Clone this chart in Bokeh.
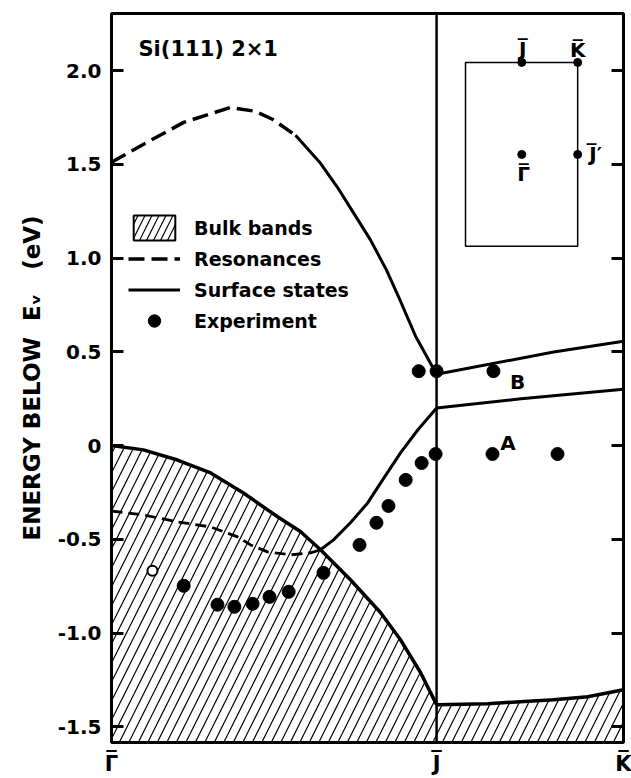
from bokeh.plotting import figure
from bokeh.models import Span, Legend, LegendItem, LinearAxis, FixedTicker, Label
from bokeh.embed import file_html
from bokeh.resources import INLINE
from bokeh.core.properties import value

FONT = "DejaVu Sans"
BAR = "\u203e"  # overbar drawn above the symmetry-point letters

# ---- symmetry points along k (Gamma = 0, J = 1) ----
J_X = 1.0
K_X = 1.575
Y_MIN, Y_MAX = -1.584, 2.305

Y_TICKS = [-1.5, -1.0, -0.5, 0.0, 0.5, 1.0, 1.5, 2.0]
Y_TICK_LABELS = ["-1.5", "-1.0", "-0.5", "0", "0.5", "1.0", "1.5", "2.0"]
X_TICKS = [0.0, J_X, K_X]
X_TICK_LABELS = ["\u0393", "J", "K"]

# ---- bulk band edge, Gamma-J ----
BULK_L_K = [0.0, 0.098, 0.203, 0.305, 0.406, 0.511, 0.582, 0.643, 0.735, 0.828, 0.889, 0.951, 1.0]
BULK_L_E = [0.0, -0.023, -0.077, -0.146, -0.253, -0.380, -0.460, -0.556, -0.716, -0.892, -1.036, -1.212, -1.382]
# ---- bulk band edge, J-K ----
BULK_R_K = [1.0, 1.157, 1.36, 1.465, 1.575]
BULK_R_E = [-1.382, -1.377, -1.356, -1.340, -1.303]

# ---- resonances (dashed) ----
RES_UP_K = [0.0, 0.12, 0.222, 0.366, 0.443, 0.495, 0.566]
RES_UP_E = [1.511, 1.628, 1.724, 1.804, 1.783, 1.741, 1.655]
RES_LO_K = [0.0, 0.098, 0.203, 0.305, 0.388, 0.428, 0.48, 0.551, 0.612, 0.643]
RES_LO_E = [-0.349, -0.370, -0.407, -0.434, -0.487, -0.530, -0.567, -0.583, -0.572, -0.556]

# ---- surface states (solid) ----
SS_UP_K = [0.566, 0.643, 0.695, 0.745, 0.797, 0.846, 0.889, 0.935, 1.0, 1.36, 1.575]
SS_UP_E = [1.655, 1.506, 1.378, 1.240, 1.096, 0.936, 0.770, 0.585, 0.381, 0.499, 0.557]
SS_LO_K = [0.643, 0.683, 0.735, 0.788, 0.828, 0.889, 0.942, 1.0, 1.26, 1.575]
SS_LO_E = [-0.556, -0.503, -0.412, -0.306, -0.199, -0.039, 0.083, 0.200, 0.250, 0.300]

# ---- experiment ----
EXP_K = [0.222, 0.326, 0.378, 0.434, 0.486, 0.545, 0.652, 0.763, 0.815, 0.852, 0.905, 0.954, 0.997,
         0.945, 1.0, 1.175, 1.172, 1.372]
EXP_E = [-0.748, -0.849, -0.860, -0.844, -0.807, -0.780, -0.679, -0.530, -0.412, -0.322, -0.183, -0.093, -0.045,
         0.397, 0.397, 0.397, -0.045, -0.045]
OPEN_K = [0.126]
OPEN_E = [-0.668]

# ---- peak labels ----
PEAK_K = [1.22, 1.249]
PEAK_E = [0.014, 0.339]
PEAK_TXT = ["A", "B"]

# ---- inset surface Brillouin zone ----
BZ_LEFT, BZ_RIGHT, BZ_BOTTOM, BZ_TOP = 1.089, 1.434, 1.063, 2.044
BZ_PT_K = [1.262, 1.434, 1.434, 1.262]
BZ_PT_E = [2.044, 2.044, 1.553, 1.553]
BZ_LBL_K = [1.265, 1.434, 1.489, 1.268]
BZ_LBL_E = [2.113, 2.108, 1.554, 1.447]
BZ_LBL = ["J", "K", "J\u2032", "\u0393"]
BZ_BAR_DX = [0, 0, -4, 0]

TITLE = "Si(111) 2\u00d71"
Y_LABEL = "ENERGY BELOW\u00a0\u00a0E\u1d65\u00a0\u00a0\u00a0(eV)"

p = figure(width=631, height=778, output_backend="svg", toolbar_location=None,
           x_range=(0, K_X), y_range=(Y_MIN, Y_MAX),
           min_border_left=111, min_border_right=8, min_border_top=13, min_border_bottom=35)
p.grid.visible = False
p.background_fill_color = "white"
p.border_fill_color = "white"
p.outline_line_color = "black"
p.outline_line_width = 3

# axes
yax = p.yaxis[0]
yax.ticker = FixedTicker(ticks=Y_TICKS)
yax.major_label_overrides = dict(zip(Y_TICKS, Y_TICK_LABELS))
yax.major_tick_in = 12
yax.major_tick_out = 0
yax.major_tick_line_width = 3
yax.minor_tick_line_color = None
yax.axis_line_color = None
yax.major_label_standoff = 10
yax.major_label_text_font = FONT
yax.major_label_text_font_style = "bold"
yax.major_label_text_font_size = "20px"
yax.major_label_text_color = "black"
yax.axis_label = Y_LABEL
yax.axis_label_text_font = FONT
yax.axis_label_text_font_style = "bold"
yax.axis_label_text_font_size = "23px"
yax.axis_label_text_color = "black"
yax.axis_label_standoff = 10

rax = LinearAxis(ticker=FixedTicker(ticks=Y_TICKS))
rax.major_label_overrides = {t: "" for t in Y_TICKS}
rax.major_tick_in = 12
rax.major_tick_out = 0
rax.major_tick_line_width = 3
rax.minor_tick_line_color = None
rax.axis_line_color = None
rax.major_label_standoff = 0
p.add_layout(rax, "right")

# bottom: first axis (next to the frame) carries the overbars, second the letters
bar_ax = p.xaxis[0]
bar_ax.ticker = FixedTicker(ticks=X_TICKS)
bar_ax.major_label_overrides = {t: BAR for t in X_TICKS}
bar_ax.major_tick_in = 0
bar_ax.major_tick_out = 0
bar_ax.minor_tick_line_color = None
bar_ax.axis_line_color = None
bar_ax.major_label_standoff = 4
bar_ax.major_label_text_font = FONT
bar_ax.major_label_text_font_style = "bold"
bar_ax.major_label_text_font_size = "21px"
bar_ax.major_label_text_color = "black"

let_ax = LinearAxis(ticker=FixedTicker(ticks=X_TICKS))
let_ax.major_label_overrides = dict(zip(X_TICKS, X_TICK_LABELS))
let_ax.major_tick_in = 0
let_ax.major_tick_out = 0
let_ax.minor_tick_line_color = None
let_ax.axis_line_color = None
let_ax.major_label_standoff = -22
let_ax.major_label_text_font = FONT
let_ax.major_label_text_font_style = "bold"
let_ax.major_label_text_font_size = "21px"
let_ax.major_label_text_color = "black"
p.add_layout(let_ax, "below")

# bulk bands (hatched)
p.varea(x=BULK_L_K, y1=Y_MIN - 0.1, y2=BULK_L_E, fill_color="white", fill_alpha=0,
        hatch_pattern="/", hatch_color="black", hatch_weight=1.2, hatch_scale=19)
p.varea(x=BULK_R_K, y1=Y_MIN - 0.1, y2=BULK_R_E, fill_color="white", fill_alpha=0,
        hatch_pattern="/", hatch_color="black", hatch_weight=1.2, hatch_scale=19)
p.line(BULK_L_K, BULK_L_E, line_color="black", line_width=3.5)
p.line(BULK_R_K, BULK_R_E, line_color="black", line_width=3.5)

# J line
p.add_layout(Span(location=J_X, dimension="height", line_color="black", line_width=2.5))

# resonances
r_res = p.line(RES_UP_K, RES_UP_E, line_color="black", line_width=3.5, line_dash="16 7")
p.line(RES_LO_K, RES_LO_E, line_color="black", line_width=2.8, line_dash="11 6")

# surface states
r_ss = p.line(SS_UP_K, SS_UP_E, line_color="black", line_width=3)
p.line(SS_LO_K, SS_LO_E, line_color="black", line_width=3)

# experiment
r_exp = p.scatter(EXP_K, EXP_E, size=13, fill_color="black", line_color="black")
p.scatter(OPEN_K, OPEN_E, size=10, fill_color="white", line_color="black", line_width=2)

p.text(PEAK_K, PEAK_E, text=PEAK_TXT, text_font=value(FONT), text_font_style="bold",
       text_font_size="20px", text_align="center", text_baseline="middle", text_color="black")

# inset BZ
p.quad(left=[BZ_LEFT], right=[BZ_RIGHT], bottom=[BZ_BOTTOM], top=[BZ_TOP],
       fill_color=None, line_color="black", line_width=1.5)
p.scatter(BZ_PT_K, BZ_PT_E, size=8, fill_color="black", line_color="black")
p.text(BZ_LBL_K, BZ_LBL_E, text=BZ_LBL, text_font=value(FONT), text_font_style="bold",
       text_font_size="20px", text_align="center", text_baseline="middle", text_color="black")
p.text(x=BZ_LBL_K, y=BZ_LBL_E, text=[BAR] * len(BZ_LBL), x_offset=BZ_BAR_DX, y_offset=-3,
       text_font=value(FONT), text_font_style="bold",
       text_font_size="20px", text_align="center", text_baseline="middle", text_color="black")

p.add_layout(Label(x=0.083, y=2.116, text=TITLE, text_font=FONT, text_font_style="bold",
                   text_font_size="21px", text_baseline="middle", text_color="black"))

# legend swatch for the hatched bulk region (hidden renderer, used only by the legend)
r_bulk_leg = p.quad(left=[0.0], right=[J_X], bottom=[Y_MIN], top=[0.0], fill_color="white", fill_alpha=0,
                    hatch_pattern="/", hatch_color="black", hatch_weight=1.2, hatch_scale=14,
                    line_color="black", line_width=2)
r_bulk_leg.visible = False
legend = Legend(items=[LegendItem(label="Bulk bands", renderers=[r_bulk_leg]),
                       LegendItem(label="Resonances", renderers=[r_res]),
                       LegendItem(label="Surface states", renderers=[r_ss]),
                       LegendItem(label="Experiment", renderers=[r_exp])],
                location=(17, 406), padding=0, margin=0, spacing=0,
                glyph_width=52, glyph_height=31, label_height=31, label_standoff=14,
                label_text_font=FONT, label_text_font_style="bold", label_text_font_size="19px",
                label_text_color="black", inactive_fill_alpha=0,
                border_line_color=None, background_fill_alpha=0)
p.add_layout(legend)

open("out.html", "w").write(file_html(p, INLINE))
